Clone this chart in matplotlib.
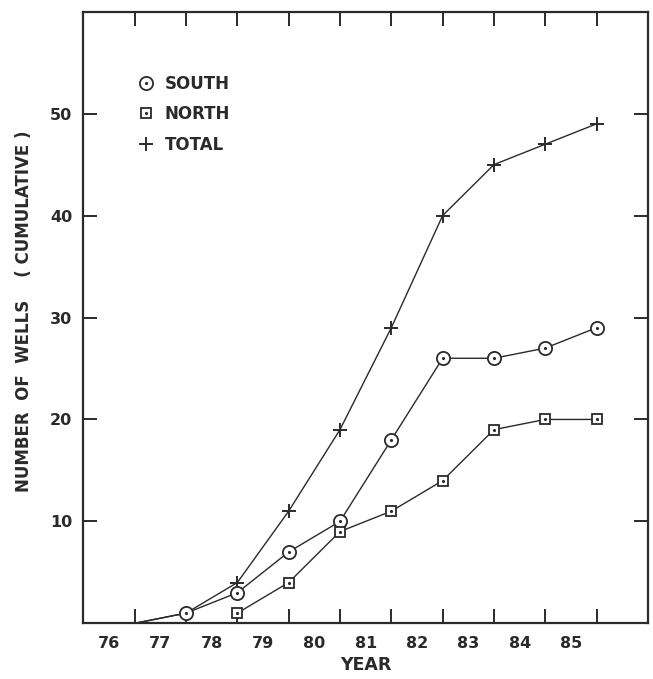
import matplotlib
matplotlib.use("Agg")
import matplotlib.pyplot as plt
from matplotlib.lines import Line2D
from matplotlib.legend_handler import HandlerTuple

# year labels sit in the middle of each year, data points at year end
year_labels = ['76', '77', '78', '79', '80', '81', '82', '83', '84', '85']
year_ends = [77, 78, 79, 80, 81, 82, 83, 84, 85, 86]

total = [0, 1, 4, 11, 19, 29, 40, 45, 47, 49]
south = [0, 1, 3, 7, 10, 18, 26, 26, 27, 29]
north_years = [79, 80, 81, 82, 83, 84, 85, 86]
north = [1, 4, 9, 11, 14, 19, 20, 20]

ink = '#2a2a2a'
plt.rcParams['font.family'] = 'DejaVu Sans'

fig = plt.figure(figsize=(6.53, 6.79), dpi=100)
ax = fig.add_axes([0.1276, 0.082, 0.8647, 0.9008])

lw = 1.0
ax.plot(year_ends, total, color=ink, lw=lw, marker='+', ms=10, mew=1.4,
        markevery=slice(1, None))
ax.plot(year_ends, south, color=ink, lw=lw, marker='o', ms=9.5, mew=1.3,
        mfc='white', markevery=slice(1, None))
ax.plot(year_ends[1:], south[1:], ls='none', marker='.', ms=2.5, color=ink)
ax.plot(north_years, north, color=ink, lw=lw, marker='s', ms=7.5, mew=1.3,
        mfc='white')
ax.plot(north_years, north, ls='none', marker='.', ms=2.5, color=ink)

ax.set_xlim(76, 87)
ax.set_ylim(0, 60)

ax.set_xticks(year_ends)
ax.set_xticklabels([])
ax.set_xticks([y + 0.5 for y in range(76, 86)], minor=True)
ax.set_xticklabels(year_labels, minor=True, fontweight='bold')
ax.set_yticks([10, 20, 30, 40, 50])
ax.set_yticklabels(['10', '20', '30', '40', '50'], fontweight='bold')

ax.tick_params(axis='both', which='major', direction='in', length=10,
               width=1.4, color=ink, top=True, right=True, labelsize=11.5,
               labelcolor=ink)
ax.tick_params(axis='x', which='minor', length=0, pad=9, labelsize=11.5,
               labelcolor=ink)
ax.tick_params(axis='y', which='major', pad=8)

for s in ax.spines.values():
    s.set_linewidth(1.6)
    s.set_color(ink)

ax.set_xlabel('YEAR', fontsize=12.5, color=ink, labelpad=4, fontweight='bold')
ax.set_ylabel('NUMBER  OF  WELLS    ( CUMULATIVE )', fontsize=12,
              color=ink, fontweight='bold')
ax.yaxis.set_label_coords(-0.09, 0.51)

h_south = (Line2D([], [], ls='none', marker='o', ms=9.5, mew=1.3, mfc='white', color=ink),
           Line2D([], [], ls='none', marker='.', ms=2.5, color=ink))
h_north = (Line2D([], [], ls='none', marker='s', ms=7.5, mew=1.3, mfc='white', color=ink),
           Line2D([], [], ls='none', marker='.', ms=2.5, color=ink))
h_total = Line2D([], [], ls='none', marker='+', ms=10, mew=1.4, color=ink)
leg = ax.legend([h_south, h_north, h_total], ['SOUTH', 'NORTH', 'TOTAL'],
                handler_map={tuple: HandlerTuple(ndivide=1, pad=0)},
                loc='upper left', bbox_to_anchor=(0.085, 0.908), frameon=False,
                fontsize=12, handlelength=1.0, handletextpad=0.6,
                labelspacing=0.75, borderaxespad=0)
for t in leg.get_texts():
    t.set_color(ink)
    t.set_fontweight('bold')

fig.savefig('out.png', dpi=100, facecolor='white')
